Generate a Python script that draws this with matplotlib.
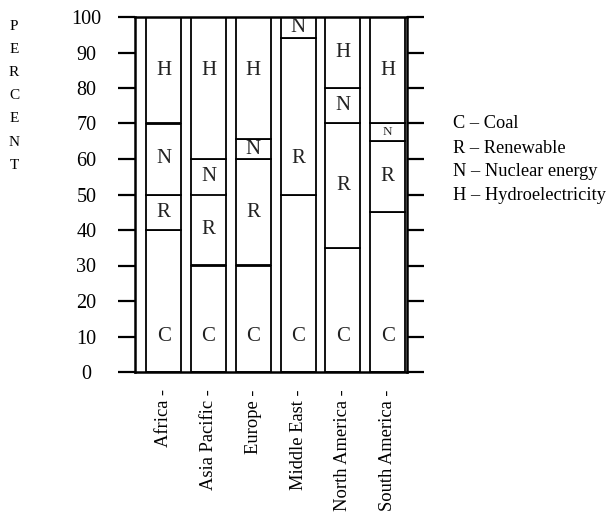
import matplotlib
matplotlib.use("Agg")
import matplotlib.pyplot as plt
import numpy as np

# ---- data ----
regions = ["Africa", "Asia Pacific", "Europe", "Middle East", "North America", "South America"]
coal = [40, 30, 30, 50, 35, 45]
renewable = [10, 20, 30, 44, 35, 20]
nuclear = [20, 10, 5.5, 6, 10, 5]
hydro = [30, 40, 34.5, 0, 20, 30]
series_letters = ["C", "R", "N", "H"]
legend_lines = ["C \u2013 Coal", "R \u2013 Renewable", "N \u2013 Nuclear energy", "H \u2013 Hydroelectricity"]
yticks = list(range(0, 101, 10))
ylabel_word = "PERCENT"

plt.rcParams['font.family'] = ['Liberation Serif', 'DejaVu Serif']

fig = plt.figure(figsize=(6.06, 5.16), dpi=100)
ax = fig.add_axes([135/606, 1-372/516, (407-135)/606, (372-17)/516])

x = np.arange(len(regions))
width = 0.78
series = [coal, renewable, nuclear, hydro]
# label placement rule per series (clip segment centre into a range)
label_clip = {"C": (10, 10), "R": (0, 60), "N": (0, 100), "H": (85, 100)}

bottom = np.zeros(len(regions))
for letter, vals in zip(series_letters, series):
    vals = np.array(vals, dtype=float)
    ax.bar(x, vals, bottom=bottom, width=width, color="white",
           edgecolor="black", linewidth=1.3, zorder=2)
    for i, v in enumerate(vals):
        if v <= 0:
            continue
        centre = bottom[i] + v / 2
        lo, hi = label_clip[letter]
        yy = min(max(centre, lo), hi)
        fs = 15 if v > 5.2 else 9.5
        ax.text(x[i], yy, letter, ha="center", va="center", fontsize=fs,
                color="#222222", zorder=3)
    bottom += vals

ax.set_xlim(-0.64, 5.43)
ax.set_ylim(0, 100)
ax.set_yticks(yticks)
ax.set_yticklabels([str(t) for t in yticks], fontsize=14.5)
for lab in ax.get_yticklabels():
    lab.set_ha("center")
ax.tick_params(axis="y", direction="out", length=12, width=1.6, pad=23,
               left=True, right=True, labelright=False, colors="black")
ax.set_xticks(x)
ax.set_xticklabels([r + " -" for r in regions], rotation=90, fontsize=13.3)
ax.tick_params(axis="x", length=0, pad=12.5)
for sp in ax.spines.values():
    sp.set_linewidth(1.8)

# vertical PERCENT label
for k, ch in enumerate(ylabel_word):
    fig.text(14/606, 1 - (26 + 23.2*k)/516, ch, ha="center", va="center", fontsize=11)

# legend text
for k, line in enumerate(legend_lines):
    fig.text(453/606, 1 - (124 + 24*k)/516, line, ha="left", va="center", fontsize=13.2)

fig.savefig("out.png", dpi=100)
